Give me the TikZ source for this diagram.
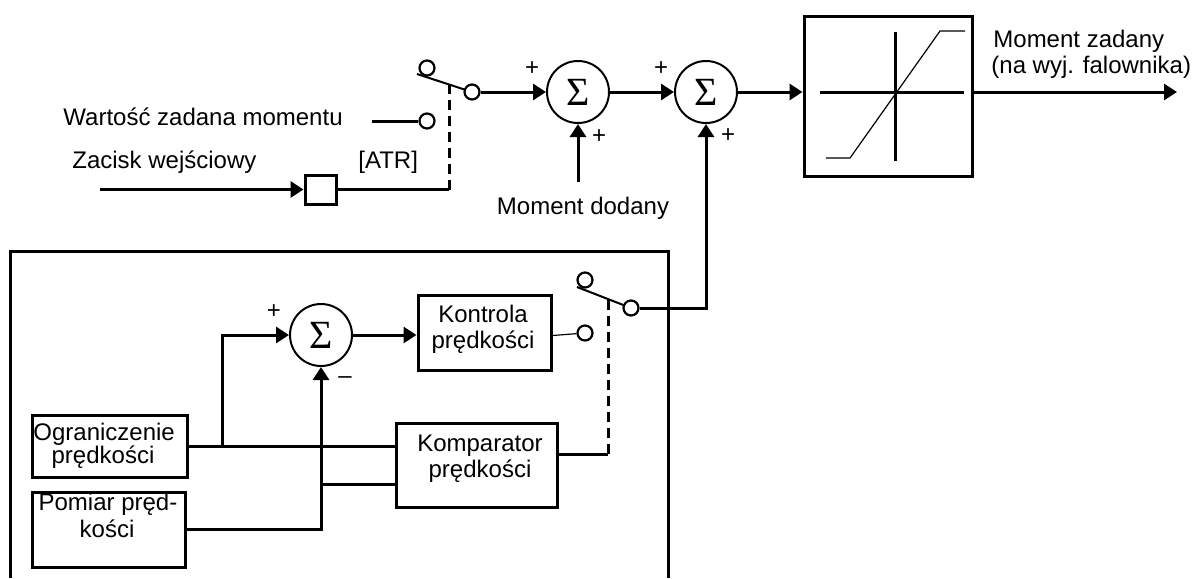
\documentclass[tikz,border=0pt]{standalone}
\usepackage{fontspec}
\setmainfont{Liberation Sans}
\newfontfamily\sigmafont{Liberation Serif}
\usetikzlibrary{arrows.meta}
\begin{document}
\begin{tikzpicture}[x=0.5pt,y=-0.5pt,
  lw/.style={line width=1.5pt},
  conn/.style={line width=1.5pt},
  arr/.style={conn,-{Triangle[length=6.5pt,width=8pt]}},
  sumnode/.style={circle,draw,line width=1pt,minimum size=31pt,inner sep=0pt,font=\sigmafont\fontsize{20}{20}\selectfont},
  contact/.style={circle,draw,line width=1.1pt,minimum size=7.5pt,inner sep=0pt,fill=white},
  blk/.style={draw,line width=1.5pt,inner sep=0pt},
  txt/.style={inner sep=0pt,font=\fontsize{12}{14}\selectfont},
  sign/.style={inner sep=0pt,font=\fontsize{12}{14}\selectfont},
  blade/.style={line width=1pt},
  mech/.style={line width=1.5pt,dash pattern=on 5pt off 3pt},
  thinline/.style={line width=0.6pt}
]
\useasboundingbox (0,0) rectangle (1192,578);

% ---------- upper part ----------
\node[contact] (u1) at (427,68) {};
\node[contact] (u2) at (427,121) {};
\node[contact] (uc) at (472,92) {};
\node[sumnode] (s1) at (578,92) {Σ};
\node[sumnode] (s2) at (706,92) {Σ};
\node[blk,minimum width=84pt,minimum height=80pt] (lim) at (888,96) {};
\coordinate (out) at (1177,92);
\node[blk,minimum width=15.5pt,minimum height=14.5pt] (atr) at (320.5,189.5) {};
\coordinate (zin) at (100,189.5);
\coordinate (wz) at (372,121);
\coordinate (atrEnd) at (449,189.5);
\coordinate (uMech) at (449,85);
\coordinate (uBlade) at (417,74);
\coordinate (dd) at (578,182);

\draw[arr] (zin) -- (atr.west);
\draw[conn] (atr.east) -- (atrEnd);
\draw[mech] (atrEnd) -- (uMech);
\draw[conn] (wz) -- (u2);
\draw[blade] (uBlade) -- (uc);
\draw[arr] (uc) -- (s1.west);
\draw[arr] (dd) -- (s1.south);
\draw[arr] (s1.east) -- (s2.west);
\draw[arr] (s2.east) -- (s2.east -| lim.west);
\draw[arr] (lim.east |- s2.east) -- (out);

% limiter characteristic
\draw[lw] (820,92) -- (964,92);
\draw[lw] (895,32) -- (895,161);
\draw[thinline] (826,158) -- (850,158) -- (940,31) -- (965,31);

% texts upper
\node[txt,anchor=base west] (t1) at (63,125) {Wartość zadana momentu};
\node[txt,anchor=base west] (t2) at (72,168) {Zacisk wejściowy};
\node[txt,anchor=base west] (t3) at (358,168) {[ATR]};
\node[txt,anchor=base] (t4) at (583,214) {Moment dodany};
\node[txt,anchor=base west] (t5) at (993,47) {Moment zadany};
\node[txt,anchor=base west] (t6) at (991,73) {(na wyj. falownika)};

\node[sign] (p1) at (532,69) {+};
\node[sign] (p2) at (599,137) {+};
\node[sign] (p3) at (661,69) {+};
\node[sign] (p4) at (728,136) {+};

% ---------- lower part ----------
\draw[lw] (10.5,578) -- (10.5,251) -- (668,251) -- (668,578);

\node[contact] (l1) at (585,280) {};
\node[contact] (l2) at (585,333) {};
\node[contact] (lc) at (631,308) {};
\coordinate (lBlade) at (577,287);
\coordinate (lcorner) at (706,308);
\coordinate (lMech) at (608,299);
\coordinate (kc) at (608,454);

\node[sumnode] (s3) at (321,335) {Σ};
\node[blk,minimum width=66.5pt,minimum height=37.5pt] (kon) at (484.5,332.5) {};
\node[blk,minimum width=80.5pt,minimum height=42pt] (kom) at (476.5,465) {};
\node[blk,minimum width=77.5pt,minimum height=31pt] (ogr) at (109.5,446) {};
\node[blk,minimum width=76.5pt,minimum height=37.5pt] (pom) at (108.5,529.5) {};
\coordinate (br1) at (222,446);
\coordinate (br2) at (321,484);

\draw[blade] (lBlade) -- (lc);
\draw[arr] (lc) -- (lcorner) -- (s2.south);
\draw[thinline] ([yshift=-1.5pt]kon.east) -- (l2);
\draw[arr] (s3.east) -- (s3.east -| kon.west);
\draw[conn] (ogr.east) -- (ogr.east -| kom.west);
\draw[arr] (br1) |- (s3.west);
\draw[arr] (pom.east) -| (s3.south);
\draw[conn] (br2) -- (br2 -| kom.west);
\draw[conn] (kom.east |- kc) -- (kc);
\draw[mech] (kc) -- (lMech);

\node[sign] (p5) at (274,312) {+};
\node[sign] (m1) at (345,380) {–};

\node[txt,anchor=base] (k1) at (483,322) {Kontrola};
\node[txt,anchor=base] (k2) at (483,348) {prędkości};
\node[txt,anchor=base] (c1) at (480,451) {Komparator};
\node[txt,anchor=base] (c2) at (480,477) {prędkości};
\node[txt,anchor=base west] (o1) at (33,440) {Ograniczenie};
\node[txt,anchor=base] (o2) at (103,463) {prędkości};
\node[txt,anchor=base] (q1) at (108,510) {Pomiar pręd-};
\node[txt,anchor=base] (q2) at (107,537) {kości};
\end{tikzpicture}
\end{document}
